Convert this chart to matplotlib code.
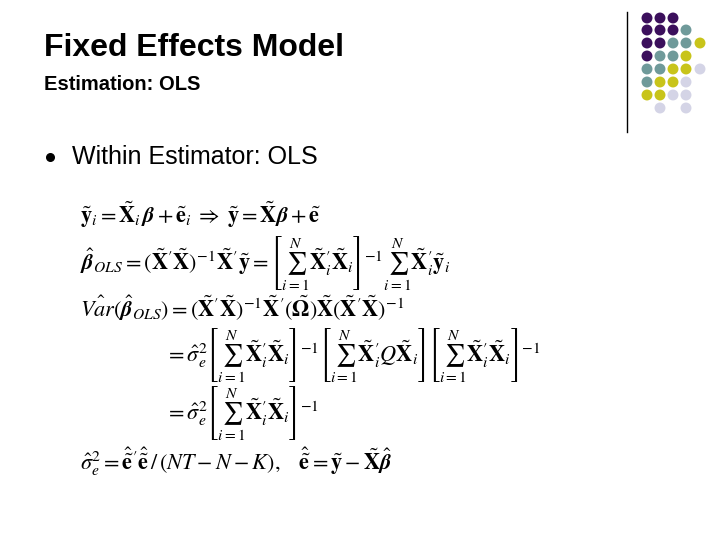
import matplotlib
matplotlib.use("Agg")
import matplotlib.pyplot as plt

P, T, Y, L = "#3b0f5c", "#6f9a9a", "#c8c41a", "#d4d4e6"
dot_rows = [
    [P, P, P],
    [P, P, P, T],
    [P, P, T, T, Y],
    [P, T, T, Y],
    [T, T, Y, Y, L],
    [T, Y, Y, L],
    [Y, Y, L, L],
    [None, L, None, L],
]
dot_x = [647, 660, 673, 686, 700]
dot_y = [18, 30, 43, 56, 69, 82, 95, 108]

equations = [
    r"$\tilde{\mathbf{y}}_i = \tilde{\mathbf{X}}_i\,\boldsymbol{\beta} + \tilde{\mathbf{e}}_i \;\Rightarrow\; \tilde{\mathbf{y}} = \tilde{\mathbf{X}}\boldsymbol{\beta} + \tilde{\mathbf{e}}$",
    r"$\hat{\boldsymbol{\beta}}_{OLS} = (\tilde{\mathbf{X}}'\tilde{\mathbf{X}})^{-1}\tilde{\mathbf{X}}'\tilde{\mathbf{y}} = \left[\sum_{i=1}^{N}\tilde{\mathbf{X}}_i'\tilde{\mathbf{X}}_i\right]^{-1}\sum_{i=1}^{N}\tilde{\mathbf{X}}_i'\tilde{\mathbf{y}}_i$",
    r"$\hat{Var}(\hat{\boldsymbol{\beta}}_{OLS}) = (\tilde{\mathbf{X}}'\tilde{\mathbf{X}})^{-1}\tilde{\mathbf{X}}'(\tilde{\boldsymbol{\Omega}})\tilde{\mathbf{X}}(\tilde{\mathbf{X}}'\tilde{\mathbf{X}})^{-1}$",
    r"$= \hat{\sigma}_e^2\left[\sum_{i=1}^{N}\tilde{\mathbf{X}}_i'\tilde{\mathbf{X}}_i\right]^{-1}\left[\sum_{i=1}^{N}\tilde{\mathbf{X}}_i'Q\tilde{\mathbf{X}}_i\right]\left[\sum_{i=1}^{N}\tilde{\mathbf{X}}_i'\tilde{\mathbf{X}}_i\right]^{-1}$",
    r"$= \hat{\sigma}_e^2\left[\sum_{i=1}^{N}\tilde{\mathbf{X}}_i'\tilde{\mathbf{X}}_i\right]^{-1}$",
    r"$\hat{\sigma}_e^2 = \hat{\tilde{\mathbf{e}}}'\hat{\tilde{\mathbf{e}}}\,/\,(NT-N-K),\quad \hat{\tilde{\mathbf{e}}} = \tilde{\mathbf{y}} - \tilde{\mathbf{X}}\hat{\boldsymbol{\beta}}$",
]
eq_pos = [(80, 215), (80, 263), (80, 308), (165, 355), (165, 413), (80, 462)]

plt.rcParams['mathtext.fontset'] = 'stix'
fig = plt.figure(figsize=(7.2, 5.4), dpi=100)
ax = fig.add_axes([0, 0, 1, 1])
ax.set_xlim(0, 720)
ax.set_ylim(540, 0)
ax.axis("off")

ax.text(44, 48, "Fixed Effects Model", fontsize=23, color="black", weight="bold",
        family="Liberation Sans", va="center")
ax.text(44, 84, "Estimation: OLS", fontsize=14.5, color="black", weight="bold",
        family="Liberation Sans", va="center")
ax.plot([627, 627], [12, 132], color="black", lw=1)
for r, row in enumerate(dot_rows):
    for c, col in enumerate(row):
        if col:
            ax.scatter(dot_x[c], dot_y[r], s=62, color=col, edgecolors="none")

ax.scatter(50, 157, s=30, color="black")
ax.text(72, 157, "Within Estimator: OLS", fontsize=18, family="Liberation Sans",
        va="center")

for (x, y), eq in zip(eq_pos, equations):
    ax.text(x, y, eq, fontsize=16, va="center")

fig.savefig("out.png", dpi=100)
